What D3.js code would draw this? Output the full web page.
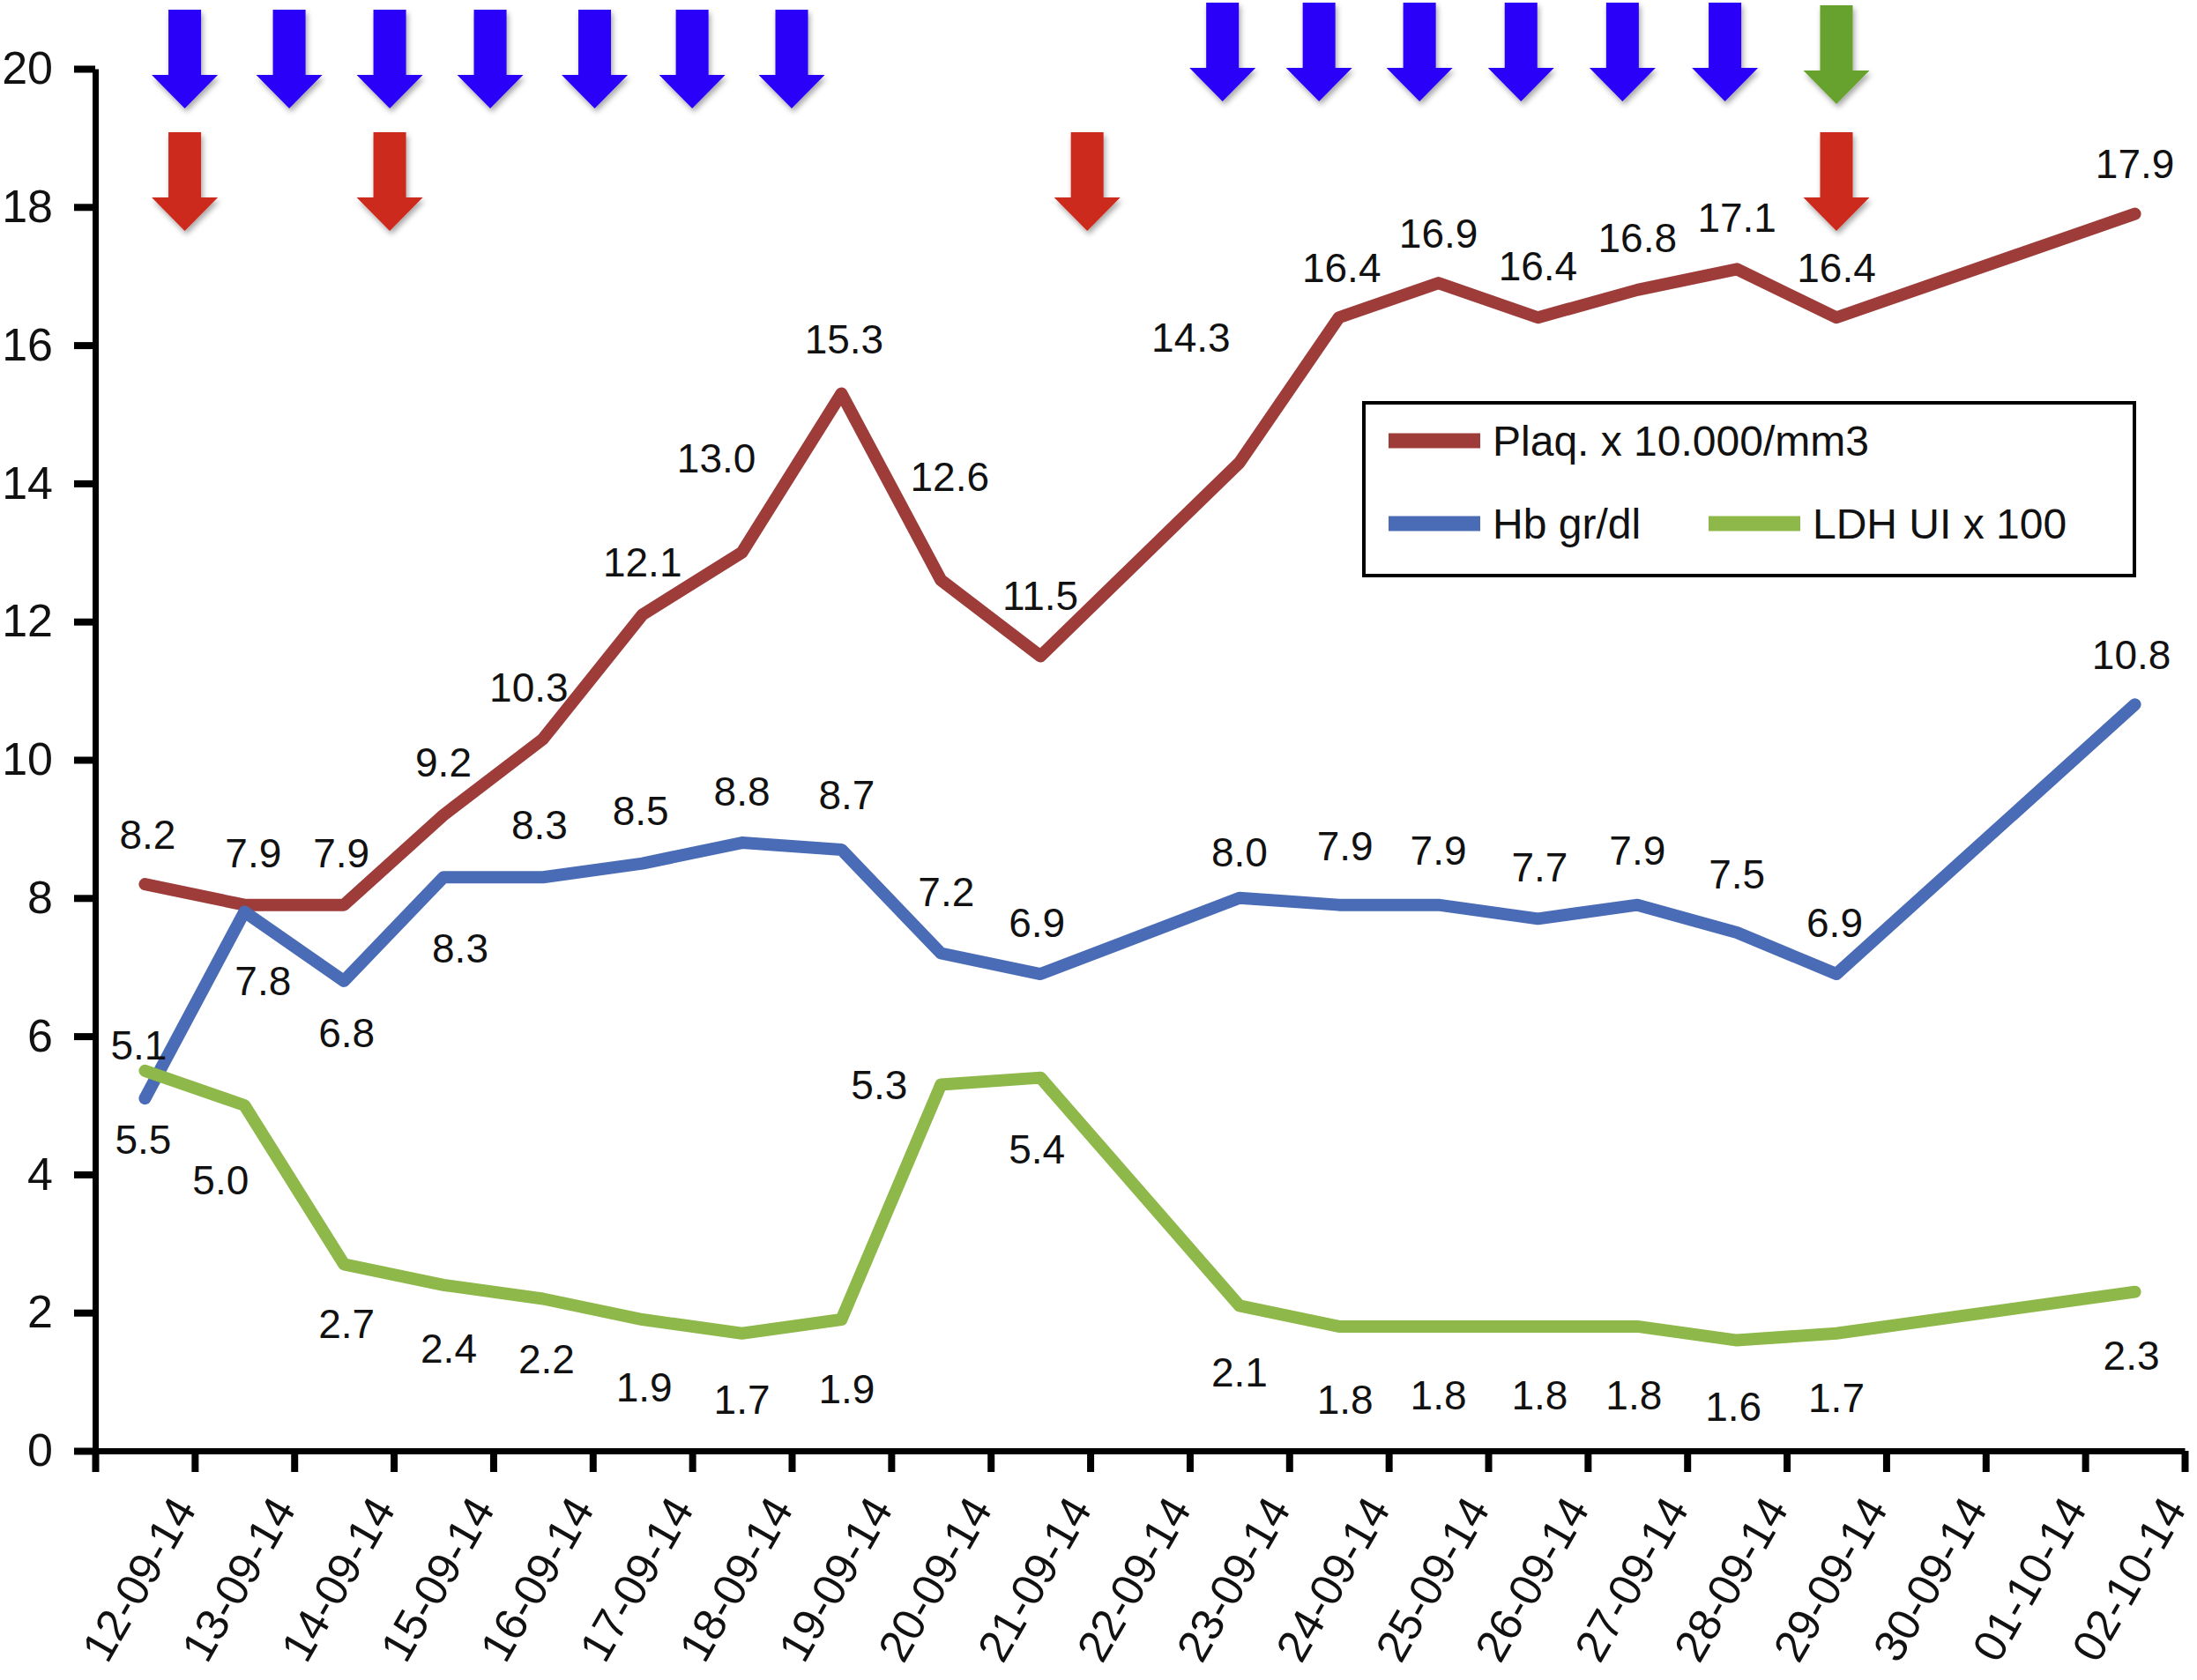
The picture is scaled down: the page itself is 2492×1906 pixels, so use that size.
<!DOCTYPE html>
<html>
<head>
<meta charset="utf-8">
<script src="https://cdn.jsdelivr.net/npm/d3@7"></script>
<style>
  body { margin: 0; background: #fff; }
  text { font-family: "Liberation Sans", Arial, Helvetica, sans-serif; fill: #111; }
</style>
</head>
<body>
<svg id="chart"></svg>
<script>
// categories (one per day)
var dates = ["12-09-14", "13-09-14", "14-09-14", "15-09-14", "16-09-14", "17-09-14", "18-09-14",
  "19-09-14", "20-09-14", "21-09-14", "22-09-14", "23-09-14", "24-09-14", "25-09-14", "26-09-14",
  "27-09-14", "28-09-14", "29-09-14", "30-09-14", "01-10-14", "02-10-14"];

// series values (null = no measure that day)
var plaq = [8.2, 7.9, 7.9, 9.2, 10.3, 12.1, 13.0, 15.3, 12.6, 11.5, null, 14.3, 16.4, 16.9, 16.4, 16.8, 17.1, 16.4, null, null, 17.9];
var hb = [5.1, 7.8, 6.8, 8.3, 8.3, 8.5, 8.8, 8.7, 7.2, 6.9, null, 8.0, 7.9, 7.9, 7.7, 7.9, 7.5, 6.9, null, null, 10.8];
var ldh = [5.5, 5.0, 2.7, 2.4, 2.2, 1.9, 1.7, 1.9, 5.3, 5.4, null, 2.1, 1.8, 1.8, 1.8, 1.8, 1.6, 1.7, null, null, 2.3];

var yTicks = [0, 2, 4, 6, 8, 10, 12, 14, 16, 18, 20];

// treatment arrows, position in days from the start of the axis
var blueArrows = [0.9, 1.95, 2.96, 3.97, 5.02, 6.0, 7.0, 11.33, 12.3, 13.31, 14.33, 15.35, 16.38];
var redArrows = [0.9, 2.96, 9.97, 17.5];
var greenArrows = [17.5];

// hand placed label offsets [dx, dy] in px, same order as the values
var plaqOff = [[3,-57],[10,-59],[-3,-59],[0,-60],[-16,-59],[0,-60],[-29,-107],[3,-62],[10,-118],[0,-69],null,
  [-55,-142],[3,-57],[0,-57],[0,-59],[0,-59],[0,-59],[0,-57],null,null,[0,-57]];
var hbOff = [[-7,-61],[21,78],[3,59],[19,80],[-4,-60],[-2,-60],[0,-59],[6,-62],[6,-70],[-4,-59],null,
  [0,-52],[7,-67],[0,-62],[2,-59],[0,-62],[0,-67],[-2,-59],null,null,[-4,-57]];
var ldhOff = [[-2,78],[-27,84],[3,67],[6,72],[4,68],[2,76],[0,75],[6,78],[-70,0],[-4,81],null,
  [0,75],[7,83],[0,78],[2,78],[-4,78],[-4,75],[0,73],null,null,[-4,72]];

var W = 2492, H = 1906;
var plotLeft = 108, plotRight = 2478, plotTop = 78, plotBottom = 1646;

var svg = d3.select("#chart").attr("width", W).attr("height", H);

var defs = svg.append("defs");
var f = defs.append("filter").attr("id", "shadow")
  .attr("x", "-30%").attr("y", "-20%").attr("width", "160%").attr("height", "150%");
f.append("feDropShadow").attr("dx", 2).attr("dy", 4).attr("stdDeviation", 3)
  .attr("flood-color", "#000").attr("flood-opacity", 0.35);

var x = d3.scaleBand().domain(dates).range([plotLeft, plotRight]);
var xDay = d3.scaleLinear().domain([0, dates.length]).range([plotLeft, plotRight]);
var y = d3.scaleLinear().domain([0, 20]).range([plotBottom, plotTop]);

function cx(i) { return x(dates[i]) + x.bandwidth() / 2; }

// y axis
var yAxis = svg.append("g").attr("transform", "translate(" + plotLeft + ",0)")
  .call(d3.axisLeft(y).tickValues(yTicks).tickSize(24).tickSizeOuter(0).tickPadding(24));
yAxis.select(".domain").attr("stroke", "#000").attr("stroke-width", 7);
yAxis.selectAll(".tick line").attr("stroke", "#000").attr("stroke-width", 8);
yAxis.selectAll(".tick text").attr("font-size", 52).attr("fill", "#111")
  .attr("font-family", "'Liberation Sans', Arial, sans-serif");

// x axis: ticks on the day boundaries
var xAxis = svg.append("g").attr("transform", "translate(0," + plotBottom + ")")
  .call(d3.axisBottom(xDay).tickValues(d3.range(dates.length + 1)).tickSize(24).tickSizeOuter(0).tickFormat(""));
xAxis.select(".domain").attr("stroke", "#000").attr("stroke-width", 7);
xAxis.selectAll(".tick line").attr("stroke", "#000").attr("stroke-width", 8);

svg.append("g").selectAll("text").data(dates).enter().append("text")
  .attr("transform", function (d, i) {
    return "translate(" + (xDay(i + 1) + 3) + "," + 1712 + ") rotate(-60)";
  })
  .attr("text-anchor", "end")
  .attr("font-size", 51)
  .text(function (d) { return d; });

// lines
var series = [
  { name: "Plaq. x 10.000/mm3", values: plaq, off: plaqOff, color: "#9e3c3a" },
  { name: "Hb gr/dl", values: hb, off: hbOff, color: "#4a6cb6" },
  { name: "LDH UI x 100", values: ldh, off: ldhOff, color: "#8fb84a" }
];

var line = d3.line()
  .x(function (d) { return cx(d.i); })
  .y(function (d) { return y(d.v); });

series.forEach(function (s) {
  var pts = s.values.map(function (v, i) { return { i: i, v: v }; })
    .filter(function (d) { return d.v !== null; });
  svg.append("path")
    .attr("d", line(pts))
    .attr("fill", "none")
    .attr("stroke", s.color)
    .attr("stroke-width", 14)
    .attr("stroke-linejoin", "round")
    .attr("stroke-linecap", "round");
});

series.forEach(function (s) {
  var pts = s.values.map(function (v, i) { return { i: i, v: v, o: s.off[i] }; })
    .filter(function (d) { return d.v !== null; });
  svg.append("g").selectAll("text").data(pts).enter().append("text")
    .attr("x", function (d) { return cx(d.i) + d.o[0]; })
    .attr("y", function (d) { return y(d.v) + d.o[1]; })
    .attr("dy", "0.36em")
    .attr("text-anchor", "middle")
    .attr("font-size", 46)
    .text(function (d) { return d.v.toFixed(1); });
});

// arrows
function arrowPath(xc, t) {
  var sw = 18.5, hw = 37.5, hs = 74, len = 112;
  return "M" + (xc - sw) + "," + t + "H" + (xc + sw) + "V" + (t + hs) + "H" + (xc + hw) +
    "L" + xc + "," + (t + len) + "L" + (xc - hw) + "," + (t + hs) + "H" + (xc - sw) + "Z";
}
var ag = svg.append("g").attr("filter", "url(#shadow)");
ag.selectAll("path.blue").data(blueArrows).enter().append("path")
  .attr("class", "blue")
  .attr("d", function (d) { return arrowPath(xDay(d), d < 10 ? 11 : 3); })
  .attr("fill", "#2b00f8");
ag.selectAll("path.red").data(redArrows).enter().append("path")
  .attr("class", "red")
  .attr("d", function (d) { return arrowPath(xDay(d), 150); })
  .attr("fill", "#cc2a1c");
ag.selectAll("path.green").data(greenArrows).enter().append("path")
  .attr("class", "green")
  .attr("d", function (d) { return arrowPath(xDay(d), 6); })
  .attr("fill", "#67a22f");

// legend
var lg = svg.append("g");
lg.append("rect").attr("x", 1547).attr("y", 457).attr("width", 874).attr("height", 196)
  .attr("fill", "#fff").attr("stroke", "#000").attr("stroke-width", 4);
var legendPos = [[1575, 500], [1575, 594], [1938, 594]];
series.forEach(function (s, i) {
  var p = legendPos[i];
  lg.append("line").attr("x1", p[0]).attr("x2", p[0] + 104).attr("y1", p[1]).attr("y2", p[1])
    .attr("stroke", s.color).attr("stroke-width", 17);
  lg.append("text").attr("x", p[0] + 118).attr("y", p[1] + 17).attr("font-size", 48)
    .text(s.name);
});
</script>
</body>
</html>
